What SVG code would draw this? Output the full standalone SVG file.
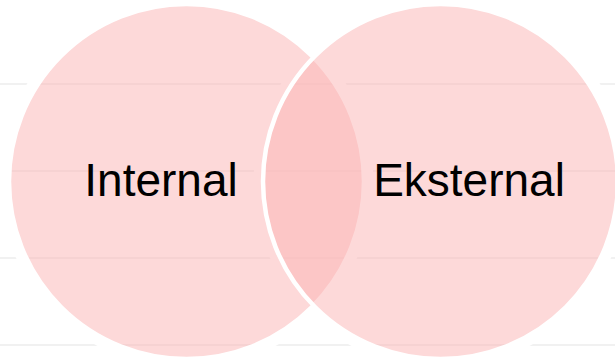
<svg xmlns="http://www.w3.org/2000/svg" width="615" height="359" viewBox="0 0 615 359">
<style>
.grid{stroke:#ececec;stroke-width:1.5;fill:none}
.halo{fill:none;stroke:#ffffff;stroke-width:10}
.set{fill:rgb(251,179,179);fill-opacity:0.5;stroke:#ffffff;stroke-width:4.5}
.lbl{font-family:"Liberation Sans",Arial,sans-serif;font-size:46px;fill:#000000;text-anchor:middle}
</style>
<rect width="615" height="359" fill="#ffffff"/>
<g id="gridlines">
<line class="grid" x1="0" y1="84" x2="615" y2="84"/>
<line class="grid" x1="0" y1="171" x2="615" y2="171"/>
<line class="grid" x1="0" y1="258" x2="615" y2="258"/>
<line class="grid" x1="0" y1="345" x2="615" y2="345"/>
</g>
<g id="halos">
<circle class="halo" cx="186.5" cy="181.5" r="182"/>
<circle class="halo" cx="440.5" cy="181.5" r="182"/>
</g>
<g id="internal">
<circle class="set" cx="186.5" cy="181.5" r="177.5"/>
</g>
<g id="eksternal">
<circle class="set" cx="440.5" cy="181.5" r="177.5"/>
</g>
<g id="labels">
<text class="lbl" x="161" y="196">Internal</text>
<text class="lbl" x="469" y="196">Eksternal</text>
</g>
</svg>
